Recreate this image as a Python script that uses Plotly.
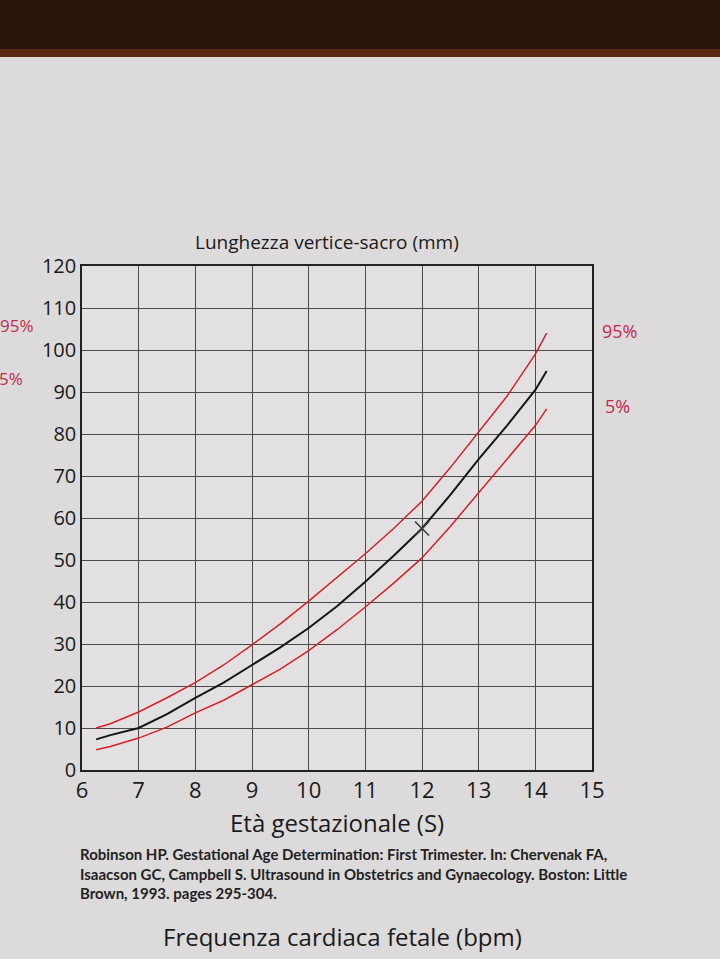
import plotly.graph_objects as go

# Settimane di gestazione e lunghezza vertice-sacro (mm)
weeks = [6.25, 6.5, 7, 7.5, 8, 8.5, 9, 9.5, 10, 10.5, 11, 11.5, 12, 12.5, 13, 13.5, 14, 14.2]
crl_mean = [7.3, 8.3, 10.0, 13.3, 17.2, 20.8, 25.0, 29.2, 33.8, 39.0, 44.8, 51.0, 57.5, 65.5, 74.0, 82.0, 90.5, 95.0]
crl_p95 = [10.0, 11.0, 13.8, 17.2, 20.8, 25.0, 29.8, 34.8, 40.2, 45.8, 51.5, 57.5, 64.0, 72.0, 80.5, 89.0, 99.0, 104.0]
crl_p5 = [4.8, 5.6, 7.6, 10.2, 13.6, 16.6, 20.3, 24.0, 28.4, 33.4, 38.8, 44.5, 50.5, 58.0, 66.0, 74.0, 82.0, 86.0]

# misura segnata a mano sul foglio
mark_week = [12]
mark_crl = [57.5]

x_ticks = list(range(6, 16))
y_ticks = list(range(0, 130, 10))

RED = "#d3202a"
LABEL_RED = "#c02a4e"
GRID = "#4a4a4a"
PAPER = "#dcdadb"
FONT = "Open Sans, Lato, sans-serif"

# area del grafico in pixel (finestra 720x959)
L, R, T, B = 82, 592, 266, 770
W, H = 720, 959


def px(xp):
    return (xp - L) / (R - L)


def py(yp):
    return (B - yp) / (B - T)


fig = go.Figure()
fig.add_trace(go.Scatter(x=weeks, y=crl_p95, mode="lines", line=dict(color=RED, width=1.5), name="95%"))
fig.add_trace(go.Scatter(x=weeks, y=crl_p5, mode="lines", line=dict(color=RED, width=1.5), name="5%"))
fig.add_trace(go.Scatter(x=weeks, y=crl_mean, mode="lines", line=dict(color="#151515", width=2), name="media"))
fig.add_trace(go.Scatter(
    x=mark_week, y=mark_crl, mode="markers",
    marker=dict(symbol="x-thin-open", size=14, color="#3a3a3a", line=dict(color="#3a3a3a", width=1.6)),
    name="misura",
))

fig.update_xaxes(
    range=[6, 15], tickvals=x_ticks, showgrid=True, gridcolor=GRID, gridwidth=1,
    showline=True, linecolor="#222", linewidth=1.5, mirror=True, zeroline=False,
    ticks="", tickfont=dict(size=22, color="#1a1a1a", family=FONT),
)
fig.update_yaxes(
    range=[0, 120], tickvals=y_ticks, showgrid=True, gridcolor=GRID, gridwidth=1,
    showline=True, linecolor="#222", linewidth=1.5, mirror=True, zeroline=False,
    ticks="", tickfont=dict(size=20, color="#1a1a1a", family=FONT),
)

annotations = [
    dict(text="Lunghezza vertice-sacro (mm)", x=px(327), y=py(242), font=dict(size=19)),
    dict(text="95%", x=px(600), y=py(331), xanchor="left", font=dict(size=18, color=LABEL_RED)),
    dict(text="5%", x=px(603), y=py(406), xanchor="left", font=dict(size=18, color=LABEL_RED)),
    dict(text="95%", x=px(36), y=py(325), xanchor="right", font=dict(size=17, color=LABEL_RED)),
    dict(text="5%", x=px(25), y=py(378), xanchor="right", font=dict(size=17, color=LABEL_RED)),
    dict(text="Età gestazionale (S)", x=px(337), y=py(822), font=dict(size=24)),
    dict(
        text="Robinson HP. Gestational Age Determination: First Trimester. In: Chervenak FA,<br>"
        "Isaacson GC, Campbell S. Ultrasound in Obstetrics and Gynaecology. Boston: Little<br>"
        "Brown, 1993. pages 295-304.",
        x=px(78), y=py(873), xanchor="left", align="left",
        font=dict(size=15, color="#222", family="Lato, sans-serif", weight="bold"),
    ),
    dict(text="Frequenza cardiaca fetale (bpm)", x=px(342), y=py(936), font=dict(size=24)),
]
for a in annotations:
    a.setdefault("xref", "paper")
    a.setdefault("yref", "paper")
    a.setdefault("showarrow", False)
    a.setdefault("xanchor", "center")
    a.setdefault("yanchor", "middle")
    a["font"].setdefault("family", FONT)
    a["font"].setdefault("color", "#1a1a1a")
    fig.add_annotation(**a)

# bordo scuro del tavolo in alto
fig.add_shape(type="rect", xref="paper", yref="paper", x0=px(0), x1=px(W), y0=py(52), y1=py(0),
              fillcolor="#2b150c", line=dict(width=0), layer="below")
fig.add_shape(type="rect", xref="paper", yref="paper", x0=px(0), x1=px(W), y0=py(57), y1=py(49),
              fillcolor="#5a2a14", line=dict(width=0), layer="below")

fig.update_layout(
    width=W, height=H,
    margin=dict(l=L, r=W - R, t=T, b=H - B),
    paper_bgcolor=PAPER, plot_bgcolor="#e2e0e1",
    showlegend=False,
    font=dict(family=FONT, color="#1a1a1a"),
)

fig.write_html("out.html", config={"displayModeBar": False},
               post_script="document.body.style.margin='0';")
